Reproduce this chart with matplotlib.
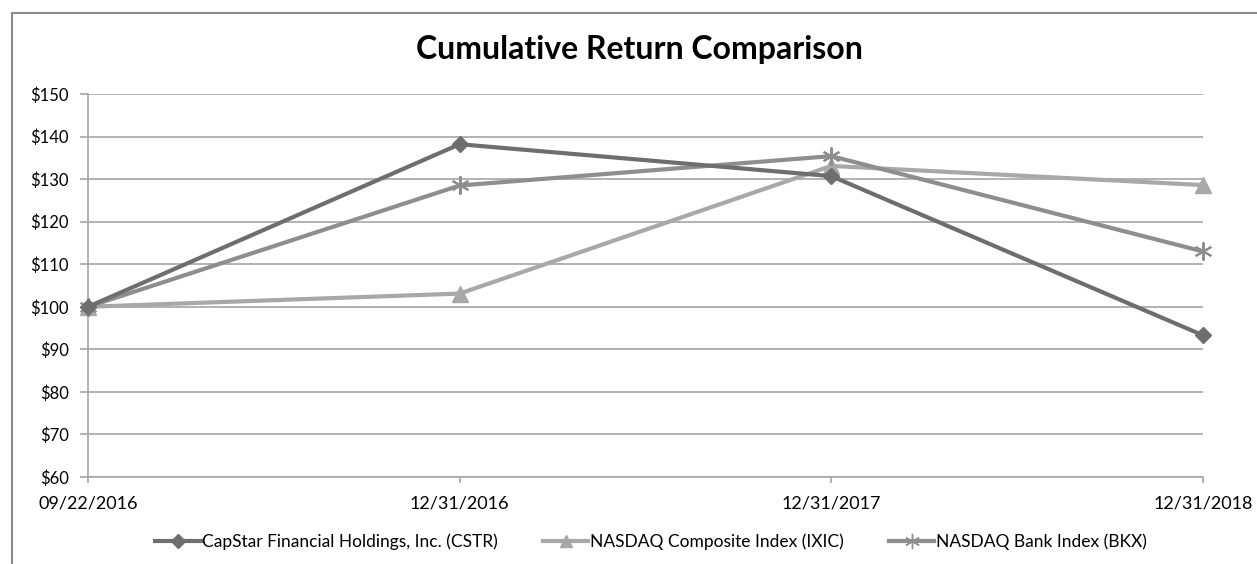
import matplotlib.pyplot as plt
from matplotlib.lines import Line2D

plt.rcParams['font.family'] = ['Lato', 'DejaVu Sans']

dates = ['09/22/2016', '12/31/2016', '12/31/2017', '12/31/2018']
cstr = [100.0, 138.2, 130.7, 93.3]
ixic = [100.0, 103.1, 133.1, 128.6]
bkx = [100.0, 128.5, 135.4, 113.0]

labels = ['CapStar Financial Holdings, Inc. (CSTR)',
          'NASDAQ Composite Index (IXIC)',
          'NASDAQ Bank Index (BKX)']
colors = ['#6e6e6e', '#a8a8a8', '#8e8e8e']
grid_col = '#a6a6a6'

fig = plt.figure(figsize=(12.57, 5.64), dpi=100)
ax = fig.add_axes([88 / 1257, 1 - 477 / 564, (1203 - 88) / 1257, (477 - 94) / 564])

x = list(range(len(dates)))
ax.plot(x, cstr, color=colors[0], lw=3, marker='D', ms=8, clip_on=False,
        zorder=5, label=labels[0])
ax.plot(x, ixic, color=colors[1], lw=3, marker='^', ms=11, clip_on=False,
        zorder=3, label=labels[1])
ax.plot(x, bkx, color=colors[2], lw=3, marker=(6, 2, 0), ms=13, mew=1.5,
        clip_on=False, zorder=4, label=labels[2])

ax.set_xlim(0, 3)
ax.set_ylim(60, 150)
ax.set_yticks(range(60, 151, 10))
ax.set_yticklabels(['$%d' % v for v in range(60, 151, 10)])
ax.set_xticks(x)
ax.set_xticklabels(dates)
ax.yaxis.grid(True, color=grid_col, lw=1.2)
ax.set_axisbelow(True)
for s in ['top', 'right']:
    ax.spines[s].set_visible(False)
ax.spines['left'].set_color(grid_col)
ax.spines['bottom'].set_color(grid_col)
ax.spines['left'].set_linewidth(1.2)
ax.spines['bottom'].set_linewidth(1.2)
ax.tick_params(axis='y', length=6, width=1.2, color=grid_col, labelsize=12,
               pad=8)
ax.tick_params(axis='x', length=4, width=1.2, color=grid_col, labelsize=13,
               pad=9)

fig.text(0.509, 1 - 50 / 564, 'Cumulative Return Comparison', ha='center',
         va='center', fontsize=23, fontweight='bold')

handles = [Line2D([], [], color=colors[0], lw=3, marker='D', ms=7),
           Line2D([], [], color=colors[1], lw=3, marker='^', ms=9),
           Line2D([], [], color=colors[2], lw=3, marker=(6, 2, 0), ms=11,
                  mew=1)]
fig.legend(handles, labels, loc='center', ncol=3, frameon=False,
           bbox_to_anchor=(0.518, 1 - 542 / 564), fontsize=12.5,
           handlelength=2.6, handletextpad=0.1, columnspacing=2.6)

# outer chart frame
fig.add_artist(Line2D([12 / 1257, 1], [1 - 13 / 564, 1 - 13 / 564],
                      color='#8a8a8a', lw=1.5, transform=fig.transFigure))
fig.add_artist(Line2D([12 / 1257, 12 / 1257], [0, 1 - 13 / 564],
                      color='#8a8a8a', lw=1.5, transform=fig.transFigure))

fig.savefig('out.png', dpi=100)
